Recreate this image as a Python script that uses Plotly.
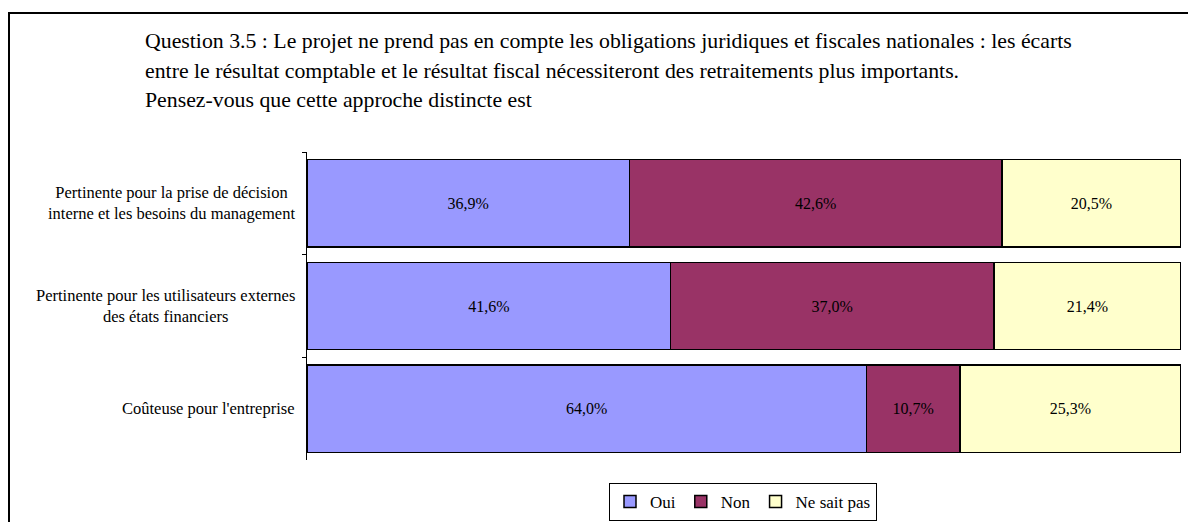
import plotly.graph_objects as go

# Survey question 3.5: answer shares per statement (percent)
categories = [
    "Pertinente pour la prise de décision<br>interne et les besoins du management",
    "Pertinente pour les utilisateurs externes<br>des états financiers",
    "Coûteuse pour l'entreprise",
]
series_names = ["Oui", "Non", "Ne sait pas"]
oui = [36.9, 41.6, 64.0]
non = [42.6, 37.0, 10.7]
ne_sait_pas = [20.5, 21.4, 25.3]
colors = ["#9999FF", "#993366", "#FFFFCC"]

title_lines = [
    "Question 3.5 : Le projet ne prend pas en compte les obligations juridiques et fiscales nationales : les écarts",
    "entre le résultat comptable et le résultat fiscal nécessiteront des retraitements plus importants.",
    "Pensez-vous que cette approche distincte est",
]

SERIF = "Liberation Serif"
W, H = 1188, 522
ML, MR, MT, MB = 307, 7, 152, 62
PW, PH = W - ML - MR, H - MT - MB


def px_x(px):
    return (px - ML) / PW


def px_y(py):
    return (H - MB - py) / PH


def fmt(v):
    return f"{v:.1f}".replace(".", ",") + "%"


fig = go.Figure()
for name, vals, col in zip(series_names, [oui, non, ne_sait_pas], colors):
    fig.add_trace(go.Bar(
        name=name,
        y=categories,
        x=vals,
        orientation="h",
        marker=dict(color=col, line=dict(color="#000000", width=1.5)),
        text=[fmt(v) for v in vals],
        textposition="inside",
        insidetextanchor="middle",
        textfont=dict(family=SERIF, size=16, color="#000000"),
        constraintext="none",
        hoverinfo="skip",
    ))

fig.update_layout(
    width=W, height=H,
    barmode="stack",
    bargap=0.15,
    paper_bgcolor="white",
    plot_bgcolor="white",
    margin=dict(l=ML, r=MR, t=MT, b=MB, autoexpand=False),
    font=dict(family=SERIF, color="#000000"),
    showlegend=True,
    legend=dict(
        orientation="h",
        x=px_x(743), xanchor="center",
        y=px_y(483), yanchor="top",
        font=dict(family=SERIF, size=17, color="#000000"),
        bordercolor="#000000", borderwidth=1,
        bgcolor="white",
        itemwidth=30,
        traceorder="normal",
    ),
    xaxis=dict(range=[0, 100], visible=False, fixedrange=True),
    yaxis=dict(
        type="category",
        autorange="reversed",
        showline=True, linecolor="#000000", linewidth=1,
        ticks="outside", ticklen=4, tickcolor="#000000",
        tickson="boundaries",
        showticklabels=False,
        showgrid=False,
        fixedrange=True,
    ),
)

# Category labels, centred line by line, right-aligned against the axis
for cat in categories:
    fig.add_annotation(
        xref="paper", yref="y", x=px_x(297), y=cat,
        text=cat, showarrow=False, xanchor="right", yanchor="middle",
        align="center",
        font=dict(family=SERIF, size=16.5, color="#000000"),
    )

# Title block, one annotation per line
title_y = [41, 71, 100]
for line, ty in zip(title_lines, title_y):
    fig.add_annotation(
        xref="paper", yref="paper", x=px_x(143), y=px_y(ty),
        text=line, showarrow=False, xanchor="left", yanchor="middle",
        align="left",
        font=dict(family=SERIF, size=21.8, color="#000000"),
    )

# Chart frame
fig.add_shape(
    type="rect", xref="paper", yref="paper",
    x0=px_x(9), x1=px_x(1200), y0=px_y(540), y1=px_y(13),
    line=dict(color="#000000", width=2), fillcolor="rgba(0,0,0,0)",
    layer="below",
)

fig.write_html("out.html")
